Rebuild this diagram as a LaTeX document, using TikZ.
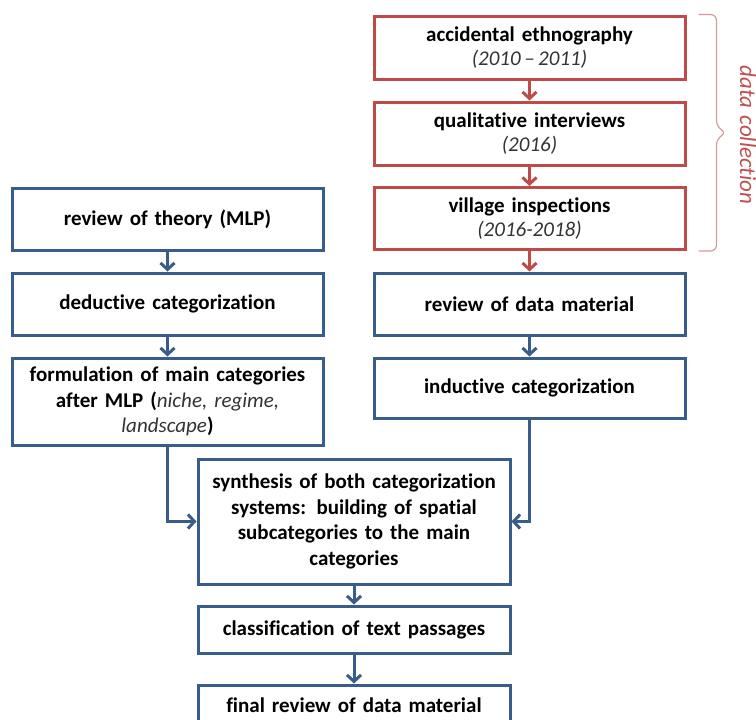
\documentclass[tikz,border=0pt]{standalone}
\usepackage{fontspec}
\setmainfont{Carlito}[Ligatures=NoCommon, WordSpace=1.4]
\usetikzlibrary{arrows.meta,calc}
\definecolor{boxblue}{HTML}{385D8A}
\definecolor{boxred}{HTML}{BE4B48}
\definecolor{bracered}{HTML}{D49A98}
\definecolor{labelred}{HTML}{C0504D}
\definecolor{dategray}{HTML}{333333}
\newcommand{\yrs}[1]{{\normalfont\itshape\color{dategray}#1}}

\tikzset{
	bluebox/.style={draw=boxblue, line width=3pt, fill=white, minimum width=311pt,
		text width=305pt, align=center, inner sep=0pt,
		font=\fontsize{21}{25.5}\selectfont\bfseries},
	redbox/.style={bluebox, draw=boxred, font=\fontsize{21}{23.5}\selectfont\bfseries},
	bluearrow/.style={draw=boxblue, line width=3pt, -{Straight Barb[length=6.5pt,width=14pt]}},
	redarrow/.style={bluearrow, draw=boxred},
	dcbrace/.style={draw=bracered, line width=1.2pt, rounded corners=6pt},
}

\begin{document}
\begin{tikzpicture}[x=1pt,y=-1pt]
		\useasboundingbox (0,0) rectangle (756,720);
		% data collection column
		\node[redbox, minimum height=63pt] (acc) at (529.5,47.5) {accidental ethnography\\ \yrs{(2010\,--\,2011)}};
		\node[redbox, minimum height=63pt] (qual) at (529.5,133.5) {qualitative interviews\\ \yrs{(2016)}};
		\node[redbox, minimum height=62pt] (vill) at (529.5,218.5) {village inspections\\ \yrs{(2016-2018)}};
		\node[bluebox, minimum height=62pt] (rdm) at (529.5,304) {review of data material};
		\node[bluebox, minimum height=60pt] (ind) at (529.5,388) {inductive categorization};
		% theory column
		\node[bluebox, minimum height=62pt] (mlp) at (167.5,219) {review of theory (MLP)};
		\node[bluebox, minimum height=62pt] (ded) at (167.5,304) {deductive categorization};
		\node[bluebox, minimum height=87pt] (form) at (167.5,401.5) {formulation of main categories\\ after MLP (\yrs{niche, regime,}\\ \yrs{landscape})};
		% common part
		\node[bluebox, minimum width=312pt, minimum height=125pt] (syn) at (354,521.5) {synthesis of both categorization\\ systems: building of spatial\\ subcategories to the main\\ categories};
		\node[bluebox, minimum width=312pt, minimum height=47pt] (cls) at (354,629.5) {classification of text passages};
		\node[bluebox, minimum width=312pt, minimum height=40pt] (fin) at (354,705) {final review of data material};

		\draw[redarrow] (acc) -- (qual);
		\draw[redarrow] (qual) -- (vill);
		\draw[redarrow] (vill) -- (rdm);
		\draw[bluearrow] (rdm) -- (ind);
		\draw[bluearrow] (mlp) -- (ded);
		\draw[bluearrow] (ded) -- (form);
		\draw[bluearrow] (form.south) |- (syn.west);
		\draw[bluearrow] (ind.south) |- (syn.east);
		\draw[bluearrow] (syn) -- (cls);
		\draw[bluearrow] (cls) -- (fin);

		% brace
		\coordinate (dctop) at ($(acc.north east)+(12,0)$);
		\coordinate (dcbot) at ($(vill.south east)+(12,0)$);
		\coordinate (dcmid) at ($(dctop)!0.5!(dcbot)$);
		\draw[dcbrace] (dctop) -- ++(18,0) -- ($(dcmid)+(18,-6)$) -- ($(dcmid)+(28,0)$)
			-- ($(dcmid)+(18,6)$) -- ($(dcbot)+(18,0)$) -- (dcbot);
		\node[rotate=-90, text=labelred, font=\fontsize{23}{23}\selectfont\itshape] (dclabel) at (748,135) {data collection};
	\end{tikzpicture}
\end{document}
